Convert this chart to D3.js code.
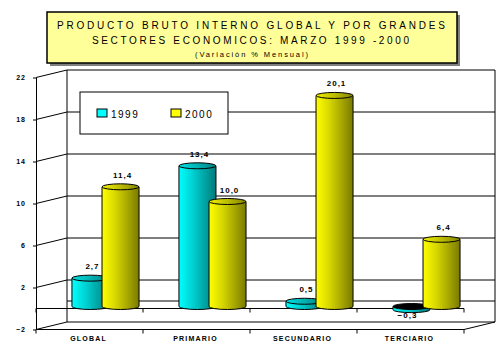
<!DOCTYPE html>
<html><head><meta charset="utf-8">
<script src="https://cdn.jsdelivr.net/npm/d3@7"></script>
<style>
html,body{margin:0;padding:0;background:#fff;}
svg{display:block;font-family:"Liberation Sans",Arial,sans-serif;}
</style></head>
<body><svg id="c" width="503" height="357"></svg>
<script>
const categories = ["GLOBAL","PRIMARIO","SECUNDARIO","TERCIARIO"];
const seriesNames = ["1999","2000"];
const values1999 = [2.7, 13.4, 0.5, -0.3];
const values2000 = [11.4, 10.0, 20.1, 6.4];
const yTicks = [-2, 2, 6, 10, 14, 18, 22];
const titleLines = ["PRODUCTO BRUTO INTERNO GLOBAL Y POR GRANDES",
                    "SECTORES ECONOMICOS: MARZO 1999 -2000",
                    "(Variación % Mensual)"];

const svg = d3.select("#c");
const DX = 31, DY = -7.5;             // depth offset of back wall
const yF = d3.scaleLinear().domain([-2, 22]).range([329.5, 77.5]);   // front plane
const yB = v => yF(v) + DY;                                         // back wall
const x = d3.scaleBand().domain(categories).range([36, 464]).padding(0);
const xL = 36, xR = 464;
const barY = v => yF(v) - 2;
const fmt = v => d3.format(".1f")(v).replace(".", ",");

// gradients
const defs = svg.append("defs");
function grad(id, c0, c1, c2) {
  const g = defs.append("linearGradient").attr("id", id).attr("x1", "0").attr("x2", "1").attr("y1", "0").attr("y2", "0");
  g.append("stop").attr("offset", "0%").attr("stop-color", c0);
  g.append("stop").attr("offset", "35%").attr("stop-color", c1);
  g.append("stop").attr("offset", "100%").attr("stop-color", c2);
}
grad("gc", "#00ffff", "#00d4d4", "#007a7a");
grad("gy", "#ffff00", "#d8d800", "#7a7a00");
grad("gct", "#00e0e0", "#00c0c0", "#008080");
grad("gyt", "#f0f000", "#cccc00", "#858500");

// title box
const tb = {x: 47, y: 12, w: 410, h: 51};
svg.append("rect").attr("x", tb.x + 3).attr("y", tb.y + 3).attr("width", tb.w).attr("height", tb.h).attr("fill", "#808080");
svg.append("rect").attr("x", tb.x).attr("y", tb.y).attr("width", tb.w).attr("height", tb.h)
  .attr("fill", "#ffff99").attr("stroke", "#000").attr("stroke-width", 1.5);
const tspec = [{x: 57, y: 29, len: 388, fs: 10}, {x: 92, y: 44, len: 317, fs: 10}, {x: 195, y: 57, len: 113, fs: 7.5}];
titleLines.forEach((t, i) => {
  svg.append("text").attr("x", tspec[i].x).attr("y", tspec[i].y)
    .attr("textLength", tspec[i].len).attr("lengthAdjust", "spacing")
    .attr("font-size", tspec[i].fs).attr("fill", "#000").text(t);
});

const g = svg.append("g").attr("stroke", "#000").attr("stroke-width", 1).attr("fill", "none");
// back wall gridlines
yTicks.forEach(v => {
  g.append("line").attr("x1", xL + DX).attr("x2", xR + DX).attr("y1", yB(v)).attr("y2", yB(v));
  g.append("line").attr("x1", xL).attr("x2", xL + DX).attr("y1", yF(v)).attr("y2", yB(v));
});
// back wall verticals
g.append("line").attr("x1", xL + DX).attr("x2", xL + DX).attr("y1", yB(22)).attr("y2", yB(-2));
g.append("line").attr("x1", xR + DX).attr("x2", xR + DX).attr("y1", yB(22)).attr("y2", yB(-2));
// floor at 0
g.append("line").attr("x1", xL + DX).attr("x2", xR + DX).attr("y1", yB(0)).attr("y2", yB(0));
g.append("line").attr("x1", xL).attr("x2", xR).attr("y1", yF(0)).attr("y2", yF(0));
// bottom front edge and right diagonal
g.append("line").attr("x1", xL).attr("x2", xR).attr("y1", yF(-2)).attr("y2", yF(-2));
g.append("line").attr("x1", xR).attr("x2", xR + DX).attr("y1", yF(-2)).attr("y2", yB(-2));
// category boundary ticks
const bounds = categories.map(c => x(c)).concat([xR]);
bounds.forEach(b => {
  g.append("line").attr("x1", b).attr("x2", b).attr("y1", yF(0)).attr("y2", yF(0) + 4);
  g.append("line").attr("x1", b).attr("x2", b).attr("y1", yF(-2)).attr("y2", yF(-2) + 4);
});

// y axis (front)
const ya = svg.append("g").attr("transform", `translate(${xL},0)`)
  .call(d3.axisLeft(yF).tickValues(yTicks).tickSize(3).tickSizeOuter(0).tickPadding(7).tickFormat(d3.format("d")));
ya.selectAll("path,line").attr("stroke", "#000");
ya.selectAll("text").attr("font-size", 7).attr("font-weight", "bold").attr("letter-spacing", "1px")
  .attr("font-family", "Liberation Sans, Arial, sans-serif").attr("fill", "#000");

// x axis labels
const xa = svg.append("g").attr("transform", `translate(0,${yF(-2)})`)
  .call(d3.axisBottom(x).tickSize(0).tickPadding(7));
xa.select(".domain").remove();
xa.selectAll("text").attr("font-size", 7).attr("font-weight", "bold").attr("letter-spacing", "1.2px")
  .attr("font-family", "Liberation Sans, Arial, sans-serif").attr("fill", "#000").attr("dx", "-1");

// legend
const lg = svg.append("g");
lg.append("rect").attr("x", 80).attr("y", 92).attr("width", 148).attr("height", 42)
  .attr("fill", "#fff").attr("stroke", "#000");
const legColors = ["#00ffff", "#ffff00"];
const legX = [97, 171];
seriesNames.forEach((s, i) => {
  lg.append("rect").attr("x", legX[i]).attr("y", 109).attr("width", 10).attr("height", 8)
    .attr("fill", legColors[i]).attr("stroke", "#000");
  lg.append("text").attr("x", legX[i] + 14).attr("y", 117.5).attr("font-size", 10)
    .attr("letter-spacing", "1.5px").attr("fill", "#000").text(s);
});

// bars (cylinders)
const bw = x.bandwidth();
const series = [
  {vals: values1999, off: 0.336, body: "url(#gc)", top: "url(#gct)"},
  {vals: values2000, off: 0.617, body: "url(#gy)", top: "url(#gyt)"}
];
const bars = svg.append("g");
const labels = svg.append("g");
categories.forEach((c, ci) => {
  series.forEach(s => {
    const v = s.vals[ci];
    const w = bw * 0.346, rx = w / 2, ry = 3;
    const L = x(c) + bw * s.off, cx = L + rx;
    const y0 = barY(0), yt = barY(v);
    const gb = bars.append("g").attr("stroke", "#000").attr("stroke-width", 1);
    if (v >= 0) {
      gb.append("path").attr("fill", s.body)
        .attr("d", `M${L},${yt} L${L},${y0} A${rx},${ry} 0 0 0 ${L + w},${y0} L${L + w},${yt} Z`);
      gb.append("ellipse").attr("cx", cx).attr("cy", yt).attr("rx", rx).attr("ry", ry).attr("fill", s.top);
      labels.append("text").attr("x", cx + 2).attr("y", yt - ry - 6).attr("text-anchor", "middle")
        .attr("font-size", 8).attr("font-weight", "bold").attr("letter-spacing", "1px").attr("fill", "#000")
        .text(fmt(v));
    } else {
      gb.append("path").attr("fill", s.body)
        .attr("d", `M${L},${y0} L${L},${yt} A${rx},${ry} 0 0 0 ${L + w},${yt} L${L + w},${y0} Z`);
      gb.append("ellipse").attr("cx", cx).attr("cy", y0).attr("rx", rx).attr("ry", ry).attr("fill", "#000");
      labels.append("text").attr("x", cx - 4).attr("y", yt + ry + 5).attr("text-anchor", "middle")
        .attr("font-size", 8).attr("font-weight", "bold").attr("letter-spacing", "1px").attr("fill", "#000")
        .text(fmt(v));
    }
  });
});
</script></body></html>
